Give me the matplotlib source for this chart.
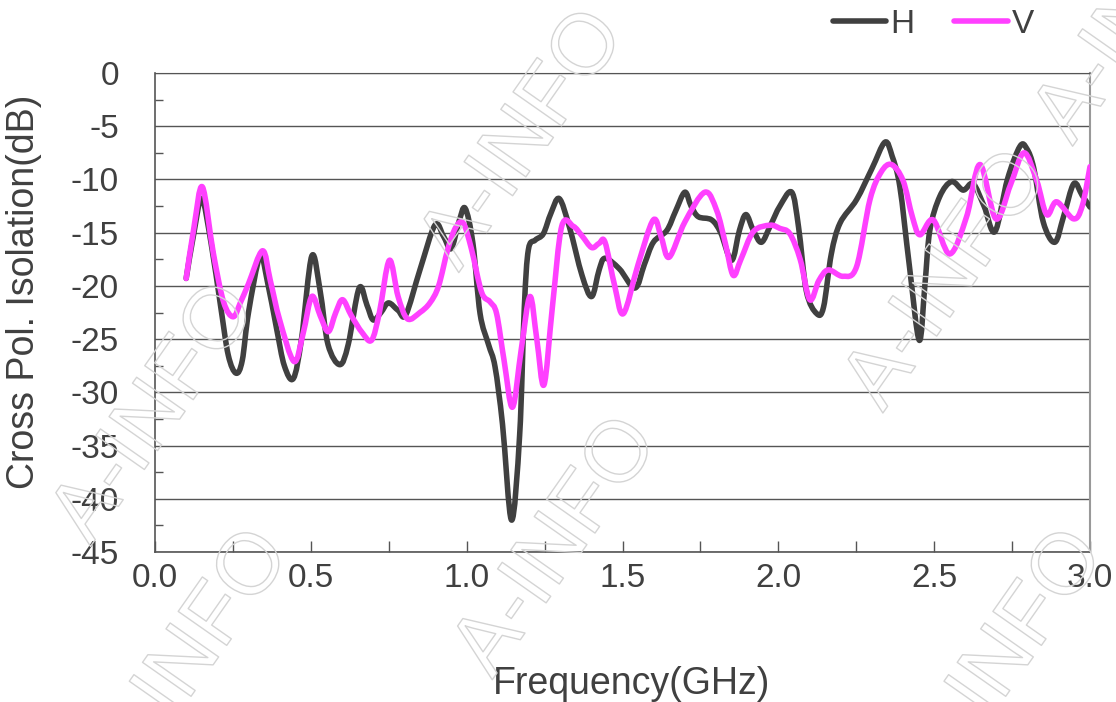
import matplotlib
matplotlib.use("Agg")
import matplotlib.pyplot as plt
from matplotlib.ticker import MultipleLocator, FormatStrFormatter
from matplotlib.path import Path
from matplotlib.patches import PathPatch
from matplotlib.lines import Line2D
import matplotlib.patheffects as pe

# --- data ---
freq_h = [0.10, 0.125, 0.15, 0.18, 0.21, 0.235, 0.26, 0.28, 0.30, 0.337,
          0.36, 0.39, 0.415, 0.444, 0.47, 0.503, 0.53, 0.555, 0.593, 0.62,
          0.655, 0.68, 0.70, 0.725, 0.749, 0.78, 0.805, 0.85, 0.898, 0.925,
          0.95, 0.975, 0.995, 1.02, 1.043, 1.07, 1.091, 1.115, 1.144, 1.17,
          1.185, 1.198, 1.22, 1.246, 1.27, 1.297, 1.33, 1.37, 1.401, 1.425,
          1.444, 1.49, 1.54, 1.57, 1.599, 1.642, 1.67, 1.70, 1.72, 1.743,
          1.786, 1.815, 1.85, 1.875, 1.896, 1.92, 1.946, 1.975, 2.005, 2.043,
          2.065, 2.09, 2.123, 2.145, 2.17, 2.198, 2.251, 2.30, 2.342, 2.365,
          2.39, 2.42, 2.452, 2.47, 2.486, 2.518, 2.556, 2.593, 2.625, 2.66,
          2.695, 2.735, 2.775, 2.797, 2.82, 2.85, 2.887, 2.915, 2.948, 2.975,
          3.00]
iso_h = [-19.3, -15.0, -11.8, -16.0, -21.8, -26.5, -28.2, -27.0, -22.5, -17.2,
         -19.5, -24.0, -27.5, -28.7, -25.0, -17.2, -20.5, -25.5, -27.4, -25.5,
         -20.2, -21.8, -23.2, -22.5, -21.6, -22.3, -22.7, -18.5, -14.3, -15.3,
         -16.5, -14.0, -12.7, -16.0, -22.6, -25.5, -27.6, -33.0, -42.0, -34.0,
         -22.0, -16.6, -15.7, -15.1, -13.2, -11.8, -14.5, -19.0, -21.0, -18.5,
         -17.4, -18.4, -20.2, -18.0, -15.9, -14.8, -13.0, -11.2, -12.5, -13.5,
         -13.8, -15.0, -17.6, -14.8, -13.3, -14.8, -15.9, -14.3, -12.5, -11.2,
         -14.5, -20.5, -22.6, -22.0, -17.0, -14.1, -11.9, -9.0, -6.5, -7.8,
         -10.7, -18.0, -25.1, -20.0, -14.8, -11.6, -10.2, -11.0, -10.4, -12.5,
         -14.9, -10.0, -6.9, -7.1, -9.0, -14.0, -15.9, -13.5, -10.4, -11.5,
         -12.6]

freq_v = [0.10, 0.125, 0.152, 0.187, 0.22, 0.251, 0.275, 0.30, 0.345, 0.37,
          0.40, 0.446, 0.475, 0.503, 0.53, 0.556, 0.58, 0.602, 0.63, 0.665,
          0.695, 0.72, 0.752, 0.78, 0.81, 0.85, 0.882, 0.91, 0.94, 0.965,
          0.989, 1.015, 1.048, 1.075, 1.096, 1.12, 1.147, 1.175, 1.203, 1.225,
          1.248, 1.275, 1.305, 1.342, 1.37, 1.401, 1.425, 1.444, 1.475, 1.503,
          1.55, 1.599, 1.625, 1.65, 1.70, 1.764, 1.802, 1.83, 1.855, 1.88,
          1.92, 1.973, 2.005, 2.037, 2.07, 2.101, 2.13, 2.16, 2.208, 2.251,
          2.294, 2.33, 2.363, 2.40, 2.43, 2.454, 2.497, 2.55, 2.604, 2.647,
          2.698, 2.745, 2.788, 2.829, 2.861, 2.893, 2.947, 2.975, 3.00]
iso_v = [-19.3, -14.5, -10.7, -16.9, -21.5, -22.9, -21.5, -19.8, -16.7, -19.5,
         -23.2, -27.1, -24.5, -21.0, -22.8, -24.3, -22.5, -21.3, -22.8, -24.4,
         -25.1, -22.5, -17.6, -21.0, -23.1, -22.5, -21.6, -20.0, -16.5, -14.5,
         -14.1, -16.5, -20.6, -21.5, -22.6, -27.0, -31.4, -26.0, -21.0, -25.0,
         -29.3, -22.0, -14.4, -14.4, -15.3, -16.4, -16.0, -15.9, -20.0, -22.6,
         -18.0, -13.8, -15.5, -17.3, -14.0, -11.2, -12.9, -16.0, -19.0, -17.5,
         -14.9, -14.3, -14.6, -15.1, -17.5, -21.3, -19.5, -18.5, -19.1, -18.2,
         -11.9, -9.3, -8.6, -10.1, -13.5, -15.2, -13.8, -17.0, -13.5, -8.6,
         -13.7, -10.5, -7.5, -10.1, -13.3, -12.1, -13.7, -12.5, -8.8]

series_names = ["H", "V"]
series_colors = ["#404040", "#ff40ff"]

x_ticks = [0.0, 0.5, 1.0, 1.5, 2.0, 2.5, 3.0]
y_ticks = [0, -5, -10, -15, -20, -25, -30, -35, -40, -45]


def smooth_path(xs, ys):
    # smoothed line like a spreadsheet chart: bezier segments through every point
    verts = [(xs[0], ys[0])]
    codes = [Path.MOVETO]
    n = len(xs)
    for i in range(n - 1):
        x0, y0 = (xs[i - 1], ys[i - 1]) if i > 0 else (xs[i], ys[i])
        x1, y1 = xs[i], ys[i]
        x2, y2 = xs[i + 1], ys[i + 1]
        x3, y3 = (xs[i + 2], ys[i + 2]) if i + 2 < n else (x2, y2)
        c1 = (x1 + (x2 - x0) / 6, y1 + (y2 - y0) / 6)
        c2 = (x2 - (x3 - x1) / 6, y2 - (y3 - y1) / 6)
        verts += [c1, c2, (x2, y2)]
        codes += [Path.CURVE4] * 3
    return Path(verts, codes)


plt.rcParams["font.family"] = ["Liberation Sans", "DejaVu Sans"]
plt.rcParams["axes.unicode_minus"] = False
text_color = "#404040"

fig = plt.figure(figsize=(11.16, 7.02), dpi=100)
ax = fig.add_axes([155 / 1116, 1 - 552 / 702, 935 / 1116, 479 / 702])

# watermark, outline only
wm_pos = [(0.14, 0.41), (0.17, 0.06), (0.47, 0.80), (0.50, 0.22),
          (0.85, 0.60), (0.90, 0.06), (1.02, 0.98)]
for wx, wy in wm_pos:
    fig.text(wx, wy, "A-INFO", fontsize=62, rotation=55, ha="center", va="center",
             color=(1, 1, 1, 0), zorder=0,
             path_effects=[pe.Stroke(linewidth=1.0, foreground="#d4d4d4")])

ax.set_facecolor("none")
for xs, ys, col, z in [(freq_h, iso_h, series_colors[0], 3), (freq_v, iso_v, series_colors[1], 4)]:
    ax.add_patch(PathPatch(smooth_path(xs, ys), facecolor="none", edgecolor=col,
                           lw=4.0, joinstyle="round", capstyle="round", zorder=z))

ax.set_xlim(0, 3.0)
ax.set_ylim(-45, 0)
ax.set_xticks(x_ticks)
ax.xaxis.set_major_formatter(FormatStrFormatter("%.1f"))
ax.xaxis.set_minor_locator(MultipleLocator(0.25))
ax.set_yticks(y_ticks)
ax.yaxis.set_minor_locator(MultipleLocator(2.5))

ax.grid(axis="y", which="major", color="#555555", lw=1.0)
ax.tick_params(axis="x", which="both", direction="in", length=8, width=1,
               color="#555555", labelsize=24, labelcolor=text_color, pad=8)
ax.tick_params(axis="y", which="major", length=0, labelsize=24,
               labelcolor=text_color, pad=26)
ax.tick_params(axis="y", which="minor", direction="in", length=6, width=1,
               color="#555555")

for side in ["left", "bottom"]:
    ax.spines[side].set_color("#555555")
    ax.spines[side].set_linewidth(1.2)
ax.spines["top"].set_color("#555555")
ax.spines["right"].set_color("#999999")
ax.spines["right"].set_linewidth(1.5)

ax.set_xlabel("Frequency(GHz)", fontsize=27, color=text_color)
ax.xaxis.set_label_coords(0.51, (552 - 666) / 479)
ax.set_ylabel("Cross Pol. Isolation(dB)", fontsize=27, color=text_color)
ax.yaxis.set_label_coords((42 - 155) / 935, (552 - 292) / 479)

handles = [Line2D([], [], color=c, lw=4.0, solid_capstyle="round") for c in series_colors]
ax.legend(handles, series_names, loc="center right", bbox_to_anchor=(0.94, 1.102),
          ncol=2, frameon=False, fontsize=24, handlelength=1.6, handletextpad=0.12,
          columnspacing=1.2, labelcolor=text_color, borderaxespad=0, borderpad=0)

fig.savefig("out.png", dpi=100, facecolor="white")
